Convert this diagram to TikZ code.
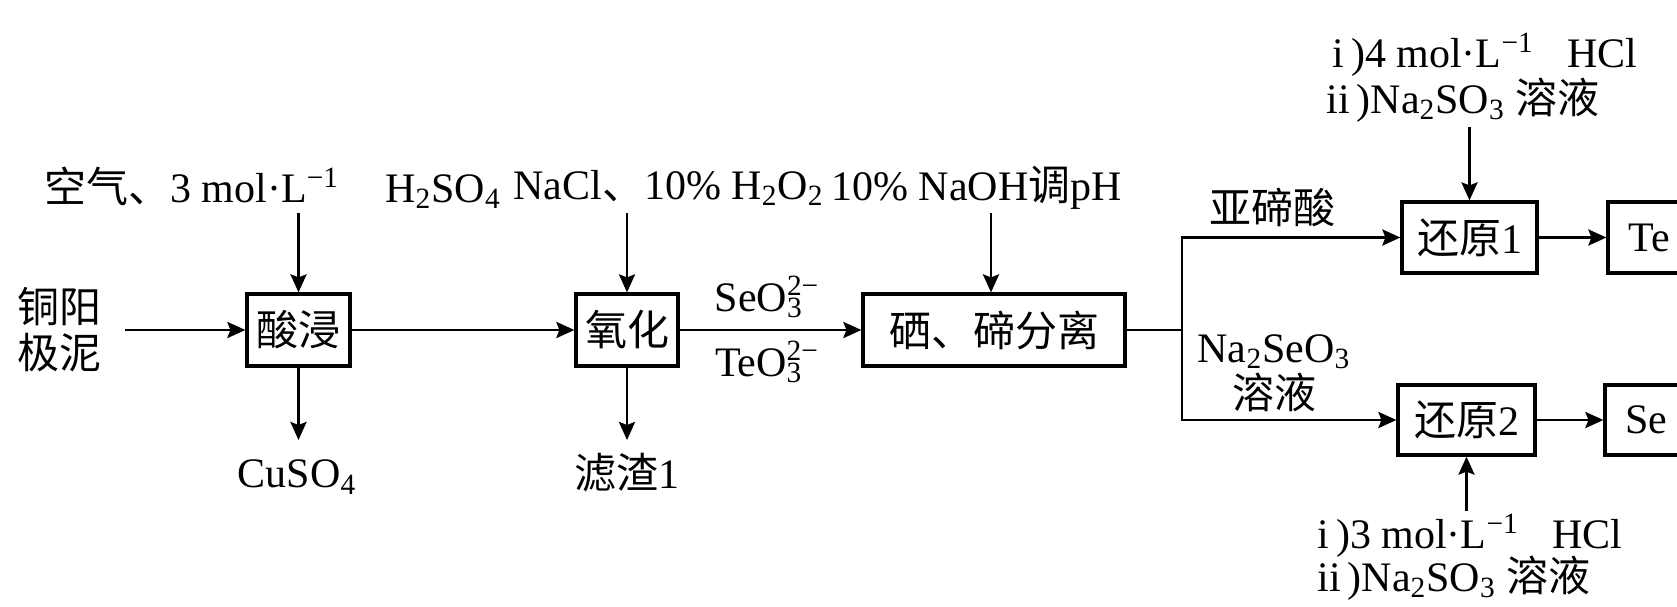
\documentclass[tikz,border=0pt]{standalone}
\usepackage{fontspec}
\setmainfont{Liberation Serif}
\newfontfamily\cjk{Noto Sans CJK SC}
\usetikzlibrary{arrows.meta}
\newcommand{\ssb}[2]{\rlap{\textsubscript{#1}}\textsuperscript{#2}}
\begin{document}
\begin{tikzpicture}[x=0.5pt,y=-0.5pt,
  font=\fontsize{21}{23}\selectfont,
  box/.style={draw, line width=1.6pt, minimum height=36pt, inner sep=0pt},
  arr/.style={line width=1.4pt, -{Stealth[length=9pt,width=8pt,inset=1.5pt]}},
  ln/.style={line width=1.4pt},
  lbl/.style={inner sep=0pt}]
\clip (0,0) rectangle (1677,606);
\fill[white] (0,0) rectangle (1677,606);

% boxes
\node[box, minimum width=51.5pt] (sj) at (298.5,330) {{\cjk 酸浸}};
\node[box, minimum width=51pt] (yh) at (627,330) {{\cjk 氧化}};
\node[box, minimum width=131pt] (fl) at (994,330) {{\cjk 硒、碲分离}};
\node[box, minimum width=67.5pt, minimum height=35.5pt] (h1) at (1469.5,237.5) {{\cjk 还原}1};
\node[box, minimum width=41pt, minimum height=35.5pt] (te) at (1649,237.5) {Te};
\node[box, minimum width=68.5pt, minimum height=35pt] (h2) at (1466.5,420) {{\cjk 还原}2};
\node[box, minimum width=41pt, minimum height=35pt] (se) at (1646,420) {Se};

% left input
\node[align=center, inner xsep=11.5pt, inner ysep=0pt] (cu) at (60,330) {{\cjk 铜阳}\\{\cjk 极泥}};

% top labels
\node[lbl, anchor=west] (t1) at (44,188) {{\cjk 空气、}3 mol·L\textsuperscript{−1}\hspace{1.1em}H\textsubscript{2}SO\textsubscript{4}};
\node[lbl, anchor=west] (t2) at (513,188) {NaCl{\cjk 、}10\% H\textsubscript{2}O\textsubscript{2}};
\node[lbl, anchor=west] (t3) at (831,188) {10\% NaOH{\cjk 调}pH};

% bottom labels
\node[lbl] (cuso) at (297,477) {CuSO\textsubscript{4}};
\node[lbl] (lz) at (627,473) {{\cjk 滤渣}1};

% ion labels
\node[lbl] (se3) at (767,297) {SeO\ssb{3}{2−}};
\node[lbl] (te3) at (767,362) {TeO\ssb{3}{2−}};

% branch labels
\node[lbl] (ytl) at (1272,207) {{\cjk 亚碲酸}};
\node[lbl, align=center] (nase) at (1274,373) {Na\textsubscript{2}SeO\textsubscript{3}\\{\cjk 溶液}};

% right reagents
\node[lbl, anchor=west] (r1) at (1332,55) {i\,)4 mol·L\textsuperscript{−1}\hspace{0.8em}HCl};
\node[lbl, anchor=west] (r2) at (1326,100) {ii\,)Na\textsubscript{2}SO\textsubscript{3} {\cjk 溶液}};
\node[lbl, anchor=west] (r3) at (1317,536) {i\,)3 mol·L\textsuperscript{−1}\hspace{0.8em}HCl};
\node[lbl, anchor=west] (r4) at (1317,578) {ii\,)Na\textsubscript{2}SO\textsubscript{3} {\cjk 溶液}};

% coordinates for free ends
\coordinate (a1) at (298.5,213);
\coordinate (a2) at (627,213);
\coordinate (a3) at (991,213);
\coordinate (b1) at (298.5,440);
\coordinate (b2) at (627,440);
\coordinate (br) at (1182,330);
\coordinate (a4) at (1469.5,127);
\coordinate (a5) at (1466.5,511);

% connectors
\draw[arr] (cu.east) -- (sj.west);
\draw[arr] (sj.east) -- (yh.west);
\draw[arr] (yh.east) -- (fl.west);
\draw[arr] (a1) -- (sj.north);
\draw[arr] (a2) -- (yh.north);
\draw[arr] (a3) -- (a3 |- fl.north);
\draw[arr] (sj.south) -- (b1);
\draw[arr] (yh.south) -- (b2);
\draw[ln] (fl.east) -- (br);
\draw[arr] (br) |- (h1.west);
\draw[arr] (br) |- (h2.west);
\draw[arr] (h1.east) -- (te.west);
\draw[arr] (h2.east) -- (se.west);
\draw[arr] (a4) -- (h1.north);
\draw[arr] (a5) -- (h2.south);
\end{tikzpicture}
\end{document}
